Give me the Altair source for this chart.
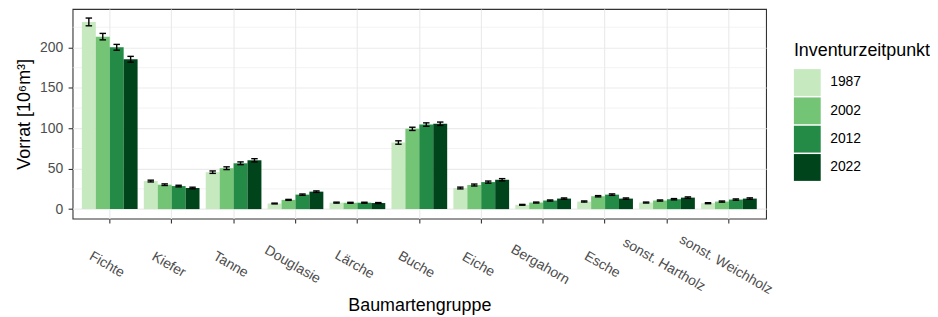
import altair as alt
import pandas as pd

species = ["Fichte", "Kiefer", "Tanne", "Douglasie", "Lärche", "Buche", "Eiche",
           "Bergahorn", "Esche", "sonst. Hartholz", "sonst. Weichholz"]
years = ["1987", "2002", "2012", "2022"]

v1987 = [231.6, 34.7, 45.7, 6.9, 8.0, 82.4, 26.1, 5.3, 9.3, 8.1, 7.3]
v2002 = [213.4, 30.2, 50.6, 11.4, 7.8, 99.3, 29.8, 8.1, 15.9, 10.6, 9.3]
v2012 = [200.2, 28.5, 56.7, 17.9, 7.9, 104.6, 33.4, 10.6, 17.9, 12.2, 11.8]
v2022 = [185.4, 26.1, 60.4, 21.6, 7.5, 105.6, 36.3, 13.0, 13.0, 14.2, 13.0]

e1987 = [4.8, 1.1, 1.5, 0.5, 0.6, 2.1, 1.1, 0.5, 0.7, 0.6, 0.6]
e2002 = [4.0, 1.0, 1.7, 0.6, 0.6, 2.0, 1.2, 0.6, 0.8, 0.7, 0.7]
e2012 = [3.6, 1.0, 1.7, 0.8, 0.6, 2.1, 1.3, 0.7, 0.9, 0.8, 0.8]
e2022 = [3.6, 1.0, 2.0, 0.9, 0.6, 2.1, 1.4, 0.8, 0.8, 0.9, 0.9]

colors = ["#c7e9c0", "#74c476", "#238b45", "#00441b"]
minor_grid = [25, 75, 125, 175, 225]
major_ticks = [0, 50, 100, 150, 200]

vals = [v1987, v2002, v2012, v2022]
errs = [e1987, e2002, e2012, e2022]
rows = []
for yi, yr in enumerate(years):
    for si, sp in enumerate(species):
        v = vals[yi][si]
        e = errs[yi][si]
        rows.append({"Baumart": sp, "Jahr": yr, "Vorrat": v, "lo": v - e, "hi": v + e})
df = pd.DataFrame(rows)
grid_df = pd.DataFrame({"g": minor_grid})

FONT = "Liberation Sans"
ydom = [-11.8, 247.6]
W, H = 698, 211

xenc = alt.X("Baumart:N", sort=species,
             scale=alt.Scale(paddingInner=0.1, paddingOuter=0.15),
             axis=alt.Axis(title="Baumartengruppe", labelAngle=30, labelAlign="center",
                           labelBaseline="middle", labelPadding=41.5, labelOffset=-3,
                           labelOverlap=False, labelFlush=False, grid=True,
                           titleX=W / 2, titleY=92, titleBaseline="alphabetic",
                           titleAlign="center"))
xoff = alt.XOffset("Jahr:N", sort=years, scale=alt.Scale(paddingInner=0, paddingOuter=0))

grid = alt.Chart(grid_df).mark_rule(color="#ebebeb", strokeWidth=0.6).encode(
    y=alt.Y("g:Q", scale=alt.Scale(domain=ydom, nice=False, zero=False))
)

bars = alt.Chart(df).mark_bar().encode(
    x=xenc,
    xOffset=xoff,
    y=alt.Y("Vorrat:Q", scale=alt.Scale(domain=ydom, nice=False, zero=False),
            axis=alt.Axis(title="Vorrat [10⁶m³]", values=major_ticks,
                          labelPadding=5.5, titleX=-43.7, titleY=H / 2,
                          titleBaseline="alphabetic", titleAlign="center")),
    color=alt.Color("Jahr:N", sort=years,
                    scale=alt.Scale(domain=years, range=colors),
                    legend=alt.Legend(title="Inventurzeitpunkt", orient="none",
                                      legendX=726, legendY=33,
                                      symbolType="square", symbolSize=729,
                                      symbolStrokeWidth=0, rowPadding=1.5,
                                      labelOffset=9.5, titlePadding=9.5, padding=0)),
)

err = alt.Chart(df).mark_rule(color="black", strokeWidth=1.4).encode(
    x=alt.X("Baumart:N", sort=species), xOffset=xoff,
    y=alt.Y("lo:Q"), y2="hi:Q"
)
cap_hi = alt.Chart(df).mark_tick(color="black", size=6.5, thickness=1.4, opacity=1).encode(
    x=alt.X("Baumart:N", sort=species), xOffset=xoff, y=alt.Y("hi:Q")
)
cap_lo = alt.Chart(df).mark_tick(color="black", size=6.5, thickness=1.4, opacity=1).encode(
    x=alt.X("Baumart:N", sort=species), xOffset=xoff, y=alt.Y("lo:Q")
)

chart = alt.layer(grid, bars, err, cap_hi, cap_lo).properties(
    width=W, height=H,
    autosize=alt.AutoSizeParams(type="none"),
    padding={"left": 65, "top": 0, "right": 165, "bottom": 98}
).configure_view(
    stroke="#333333", strokeWidth=1.1
).configure_axis(
    labelFont=FONT, labelFontSize=14, labelColor="#4d4d4d",
    titleFont=FONT, titleFontSize=18, titleFontWeight="normal", titleColor="black",
    tickColor="#333333", tickSize=4.5, tickWidth=1.1, domain=False,
    gridColor="#ebebeb", gridWidth=1.2
).configure_legend(
    titleFont=FONT, titleFontSize=18, titleFontWeight="normal", titleColor="black",
    labelFont=FONT, labelFontSize=14, labelColor="black"
)

chart.save("out.html", embed_options={"renderer": "svg", "actions": False})
